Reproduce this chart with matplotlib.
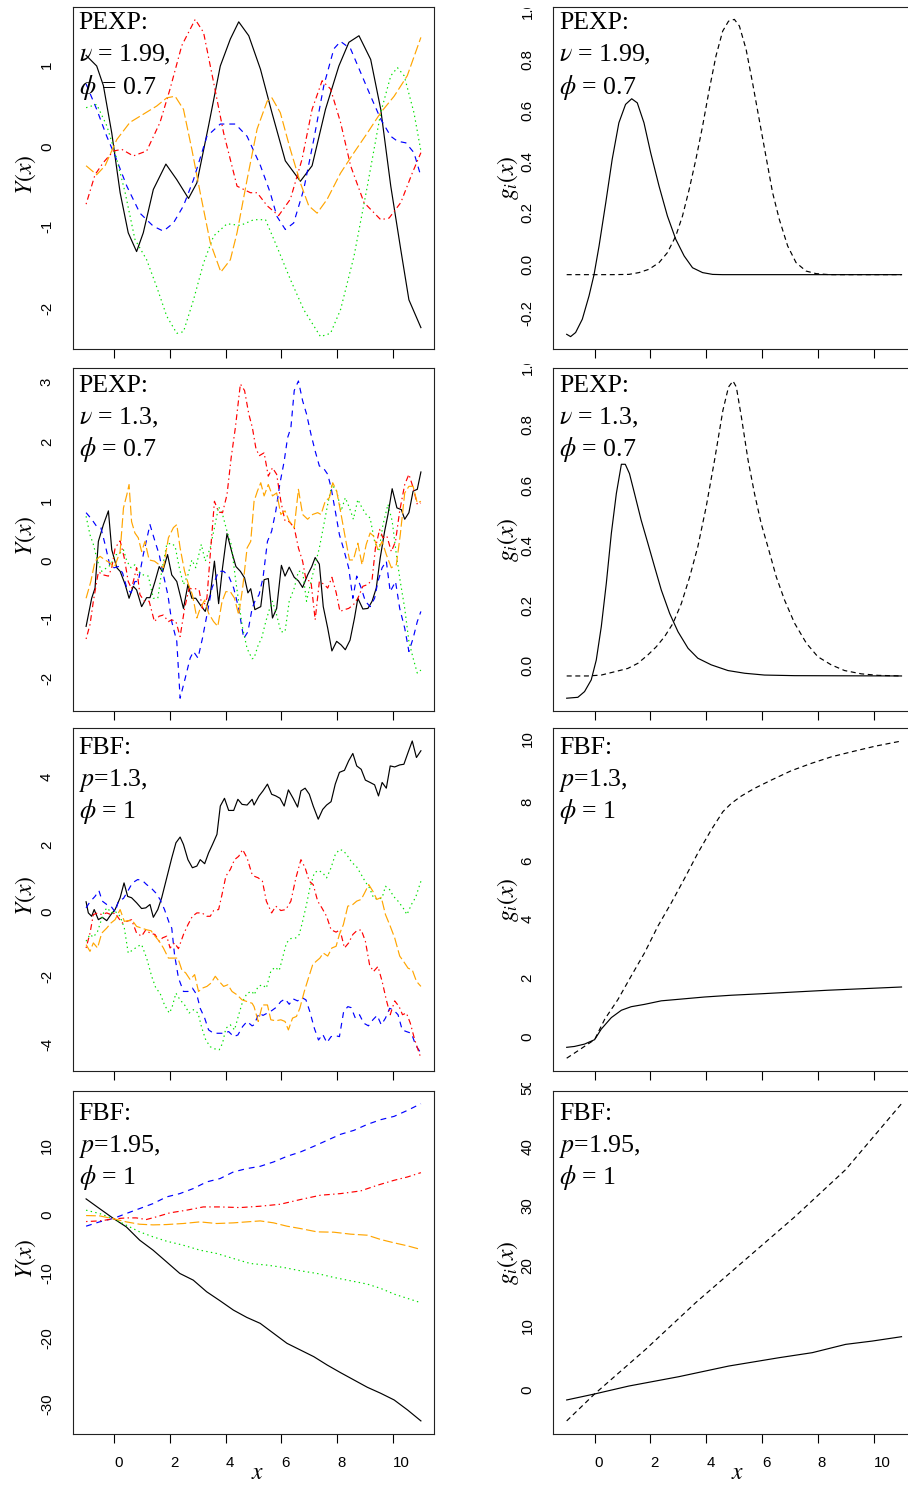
import numpy as np
import matplotlib
matplotlib.use("Agg")
import matplotlib.pyplot as plt
from matplotlib.transforms import Bbox, TransformedBbox

# ---- sample paths, PEXP nu=1.99 phi=0.7 ----
PEXP199_BLACK = [(-1.0, 1.17), (-0.62, 1.04), (-0.38, 0.80), (-0.08, 0.22), (0.22, -0.51), (0.51, -1.0),
                 (0.81, -1.23), (1.05, -1.0), (1.41, -0.47), (1.86, -0.16), (2.25, -0.35), (2.67, -0.58),
                 (2.97, -0.39), (3.39, 0.31), (3.81, 1.04), (4.17, 1.37), (4.47, 1.58), (4.83, 1.41),
                 (5.25, 1.0), (5.66, 0.47), (6.14, -0.12), (6.68, -0.37), (7.10, -0.18), (7.58, 0.51),
                 (8.06, 1.04), (8.42, 1.33), (8.78, 1.41), (9.20, 1.12), (9.56, 0.51), (9.92, -0.43),
                 (10.28, -1.21), (10.57, -1.82), (11.0, -2.16)]
PEXP199_RED = [(-1.0, -0.65), (-0.68, -0.29), (-0.38, -0.14), (-0.02, 0.0), (0.28, 0.02), (0.69, -0.06),
               (1.17, 0.0), (1.65, 0.35), (2.01, 0.76), (2.43, 1.29), (2.91, 1.61), (3.21, 1.45),
               (3.57, 0.84), (3.93, 0.22), (4.41, -0.43), (4.89, -0.51), (5.13, -0.51), (5.49, -0.67),
               (5.90, -0.79), (6.32, -0.59), (6.74, -0.10), (7.10, 0.51), (7.46, 0.86), (7.76, 0.76),
               (8.12, 0.35), (8.48, -0.18), (8.96, -0.63), (9.56, -0.84), (9.86, -0.82), (10.28, -0.63),
               (10.69, -0.27), (11.0, -0.02)]
PEXP199_BLUE = [(-1.0, 0.82), (-0.62, 0.51), (-0.26, 0.18), (0.04, -0.06), (0.46, -0.43), (0.93, -0.76),
                (1.41, -0.92), (1.77, -0.98), (2.13, -0.88), (2.49, -0.67), (2.85, -0.35), (3.33, 0.18),
                (3.81, 0.33), (4.35, 0.33), (4.77, 0.18), (5.25, -0.18), (5.60, -0.51), (5.84, -0.80),
                (6.14, -0.96), (6.44, -0.88), (6.80, -0.47), (7.16, 0.14), (7.52, 0.80), (7.88, 1.25),
                (8.12, 1.34), (8.48, 1.25), (8.84, 0.96), (9.20, 0.67), (9.56, 0.39), (9.92, 0.18),
                (10.16, 0.12), (10.46, 0.10), (10.75, -0.02), (11.0, -0.31)]
PEXP199_ORANGE = [(-1.0, -0.18), (-0.62, -0.29), (-0.32, -0.18), (0.10, 0.14), (0.57, 0.35), (1.05, 0.45),
                  (1.53, 0.55), (1.89, 0.65), (2.19, 0.67), (2.49, 0.51), (2.79, 0.02), (3.09, -0.51),
                  (3.45, -1.12), (3.83, -1.48), (4.17, -1.33), (4.41, -1.0), (4.77, -0.35), (5.13, 0.27),
                  (5.49, 0.61), (5.66, 0.65), (5.96, 0.47), (6.32, 0.02), (6.68, -0.39), (6.98, -0.67),
                  (7.28, -0.76), (7.64, -0.59), (8.12, -0.27), (8.60, -0.02), (9.08, 0.22), (9.56, 0.47),
                  (10.04, 0.67), (10.51, 0.92), (11.0, 1.39)]
PEXP199_GREEN = [(-1.0, 0.53), (-0.62, 0.57), (-0.26, 0.31), (0.04, -0.02), (0.40, -0.51), (0.75, -1.08),
                 (1.17, -1.33), (1.53, -1.66), (1.89, -2.02), (2.25, -2.23), (2.49, -2.21), (2.85, -1.82),
                 (3.21, -1.37), (3.57, -1.04), (4.05, -0.89), (4.53, -0.91), (5.01, -0.84), (5.43, -0.84),
                 (5.84, -1.17), (6.32, -1.57), (6.80, -1.94), (7.40, -2.27), (7.76, -2.23), (8.12, -1.94),
                 (8.60, -1.29), (9.08, -0.43), (9.56, 0.47), (9.92, 0.92), (10.16, 1.02), (10.40, 0.92),
                 (10.75, 0.47), (11.0, 0.0)]

# ---- sample paths, PEXP nu=1.3 phi=0.7 ----
PEXP13_BLACK = [(-1.0, -1.02), (-0.80, -0.55), (-0.68, -0.38), (-0.56, 0.40), (-0.38, 0.68), (-0.20, 0.91),
                (-0.08, 0.26), (0.10, -0.04), (0.22, -0.10), (0.40, -0.32), (0.54, -0.55), (0.69, -0.35),
                (0.81, -0.41), (0.99, -0.69), (1.17, -0.54), (1.29, -0.54), (1.47, -0.27), (1.62, -0.02),
                (1.74, -0.11), (1.92, 0.18), (2.07, -0.16), (2.25, -0.27), (2.49, -0.72), (2.65, -0.32),
                (2.79, -0.55), (2.93, -0.55), (3.09, -0.66), (3.27, -0.77), (3.45, -0.49), (3.60, 0.07),
                (3.75, -0.64), (3.89, -0.04), (4.05, 0.53), (4.23, 0.21), (4.37, -0.02), (4.53, -0.10),
                (4.68, -0.21), (4.80, -0.46), (4.90, -0.39), (5.05, -0.74), (5.26, -0.69), (5.38, -0.24),
                (5.53, -0.22), (5.68, -0.88), (5.83, -0.72), (6.00, 0.00), (6.13, -0.18), (6.28, -0.03),
                (6.46, -0.20), (6.61, -0.26), (6.76, -0.37), (6.94, -0.16), (7.09, -0.02), (7.21, 0.13),
                (7.36, 0.02), (7.50, -0.69), (7.66, -1.05), (7.81, -1.43), (7.98, -1.27), (8.14, -1.33),
                (8.29, -1.41), (8.46, -1.25), (8.62, -0.88), (8.74, -0.55), (8.92, -0.73), (9.10, -0.72),
                (9.25, -0.60), (9.40, -0.38), (9.54, 0.12), (9.70, 0.57), (9.82, 0.85), (9.97, 1.28),
                (10.14, 0.96), (10.30, 0.93), (10.42, 0.77), (10.57, 0.88), (10.72, 1.24), (10.87, 1.27),
                (11.0, 1.56)]
PEXP13_RED = [(-1.0, -1.23), (-0.86, -0.99), (-0.74, -0.60), (-0.56, -0.11), (-0.38, -0.16), (-0.20, -0.18),
              (-0.08, -0.04), (0.04, 0.29), (0.22, 0.41), (0.37, 0.12), (0.51, -0.27), (0.63, -0.39),
              (0.81, -0.04), (0.93, -0.49), (1.09, -0.60), (1.26, -0.60), (1.45, -0.94), (1.62, -0.85),
              (1.77, -0.83), (1.95, -0.94), (2.07, -0.91), (2.22, -0.94), (2.37, -1.19), (2.53, -0.72),
              (2.69, -0.39), (2.91, -0.39), (3.05, -0.41), (3.17, -0.72), (3.33, -0.55), (3.45, 0.18),
              (3.60, 1.07), (3.75, 0.89), (3.89, 0.88), (4.05, 1.18), (4.20, 1.80), (4.35, 2.30),
              (4.53, 3.03), (4.68, 2.92), (4.83, 2.53), (4.96, 2.30), (5.08, 1.97), (5.20, 1.83),
              (5.38, 1.88), (5.53, 1.49), (5.68, 1.63), (5.83, 1.52), (5.98, 1.07), (6.13, 0.74),
              (6.28, 0.73), (6.46, 0.63), (6.61, 0.29), (6.76, 0.07), (6.88, -0.24), (7.06, -0.27),
              (7.21, -0.91), (7.36, -0.27), (7.54, -0.32), (7.66, -0.38), (7.81, -0.20), (7.96, -0.45),
              (8.10, -0.77), (8.26, -0.74), (8.41, -0.72), (8.58, -0.66), (8.74, -0.55), (8.92, -0.35),
              (9.10, -0.32), (9.25, -0.24), (9.37, 0.29), (9.52, 0.60), (9.64, 0.46), (9.78, 0.49),
              (9.94, 0.23), (10.09, 0.40), (10.24, 0.91), (10.42, 1.35), (10.57, 1.52), (10.72, 1.30),
              (10.87, 1.02), (11.0, 1.04)]
PEXP13_BLUE = [(-1.0, 0.88), (-0.80, 0.77), (-0.62, 0.65), (-0.47, 0.63), (-0.32, 0.35), (-0.14, -0.02),
               (0.01, -0.04), (0.16, -0.02), (0.31, -0.13), (0.46, -0.38), (0.61, -0.46), (0.75, -0.27),
               (0.87, -0.27), (1.05, 0.18), (1.29, 0.68), (1.47, 0.40), (1.62, 0.18), (1.77, -0.16),
               (1.93, -0.49), (2.07, -0.94), (2.25, -1.27), (2.37, -2.22), (2.55, -1.89), (2.73, -1.55),
               (2.85, -1.44), (3.01, -1.55), (3.17, -1.22), (3.33, -0.83), (3.51, -0.38), (3.75, -0.10),
               (3.93, -0.10), (4.11, -0.18), (4.29, -0.38), (4.47, -0.72), (4.65, -1.22), (4.80, -1.11),
               (4.95, -0.72), (5.05, -0.60), (5.20, -0.49), (5.34, -0.21), (5.50, 0.40), (5.65, 0.57),
               (5.80, 0.91), (5.94, 1.35), (6.10, 1.74), (6.22, 2.13), (6.34, 2.30), (6.46, 2.92),
               (6.61, 3.08), (6.76, 2.75), (6.90, 2.53), (7.06, 2.19), (7.21, 1.91), (7.36, 1.66),
               (7.50, 1.63), (7.66, 1.52), (7.78, 1.30), (7.93, 0.91), (8.08, 0.51), (8.22, 0.29),
               (8.41, -0.04), (8.56, -0.55), (8.70, -0.18), (8.86, -0.38), (9.01, -0.60), (9.18, -0.69),
               (9.34, -0.55), (9.46, -0.27), (9.61, -0.04), (9.76, 0.07), (9.90, -0.44), (10.09, -0.27),
               (10.24, -0.72), (10.42, -1.05), (10.57, -1.44), (10.72, -1.22), (10.87, -0.94), (11.0, -0.77)]
PEXP13_ORANGE = [(-1.0, -0.55), (-0.83, -0.27), (-0.68, 0.07), (-0.50, 0.15), (-0.32, 0.09), (-0.14, 0.04),
                 (0.01, -0.04), (0.22, 0.23), (0.34, 0.96), (0.46, 1.18), (0.54, 1.35), (0.63, 0.73),
                 (0.75, 0.54), (0.87, 0.46), (0.99, 0.23), (1.11, 0.40), (1.26, 0.09), (1.45, 0.07),
                 (1.62, 0.01), (1.77, -0.04), (1.95, 0.46), (2.13, 0.63), (2.25, 0.68), (2.37, 0.29),
                 (2.53, -0.10), (2.67, -0.32), (2.81, -0.49), (2.97, -0.88), (3.09, -0.72), (3.25, -0.58),
                 (3.39, -0.80), (3.57, -0.94), (3.72, -1.02), (3.87, -0.61), (4.01, -0.44), (4.17, -0.44),
                 (4.32, -0.55), (4.47, -0.83), (4.61, -0.38), (4.77, 0.29), (4.90, 0.40), (5.02, 1.07),
                 (5.14, 1.24), (5.26, 1.38), (5.38, 1.16), (5.53, 1.35), (5.68, 1.16), (5.83, 1.21),
                 (5.98, 0.85), (6.13, 0.91), (6.28, 0.74), (6.46, 0.63), (6.61, 1.27), (6.76, 0.85),
                 (6.94, 0.77), (7.12, 0.85), (7.30, 0.88), (7.42, 0.85), (7.57, 1.07), (7.72, 1.13),
                 (7.84, 1.38), (7.98, 1.24), (8.14, 0.85), (8.29, 0.46), (8.44, 0.09), (8.58, 0.09),
                 (8.74, 0.37), (8.89, 0.01), (9.04, 0.35), (9.18, 0.54), (9.30, 0.49), (9.46, 0.26),
                 (9.61, 0.40), (9.76, 0.18), (9.94, -0.04), (10.12, 0.01), (10.26, 0.51), (10.42, 1.21),
                 (10.57, 1.32), (10.72, 1.32), (10.87, 1.04), (11.0, 1.07)]
PEXP13_GREEN = [(-1.0, 0.82), (-0.86, 0.51), (-0.74, 0.35), (-0.59, 0.07), (-0.44, -0.10), (-0.26, -0.04),
                (-0.11, 0.01), (0.04, 0.18), (0.16, 0.18), (0.34, 0.26), (0.46, 0.07), (0.61, -0.04),
                (0.75, 0.01), (0.87, -0.10), (1.05, -0.16), (1.23, -0.18), (1.41, -0.55), (1.57, -0.55),
                (1.71, -0.10), (1.89, 0.35), (2.05, 0.37), (2.19, 0.32), (2.34, -0.04), (2.49, -0.32),
                (2.65, -0.16), (2.79, 0.09), (2.93, -0.04), (3.13, 0.35), (3.27, 0.07), (3.45, 0.29),
                (3.60, 0.63), (3.75, 0.98), (3.89, 0.85), (4.05, 0.57), (4.20, 0.35), (4.35, -0.21),
                (4.47, -0.61), (4.61, -1.05), (4.77, -1.39), (4.95, -1.56), (5.02, -1.55), (5.17, -1.33),
                (5.29, -1.22), (5.44, -0.94), (5.58, -0.72), (5.68, -0.60), (5.83, -0.83), (5.98, -1.11),
                (6.13, -1.11), (6.28, -0.60), (6.46, -0.38), (6.61, -0.10), (6.76, -0.10), (6.90, -0.60),
                (7.06, -0.27), (7.21, 0.01), (7.36, 0.29), (7.50, 0.63), (7.66, 1.02), (7.81, 1.35),
                (7.98, 1.24), (8.14, 0.91), (8.29, 1.13), (8.44, 0.96), (8.58, 0.77), (8.74, 1.10),
                (8.89, 0.96), (9.04, 0.85), (9.18, 0.79), (9.34, 0.40), (9.49, 0.23), (9.64, 0.68),
                (9.82, 1.02), (9.97, 0.74), (10.12, 0.18), (10.26, -0.27), (10.42, -0.72), (10.57, -1.27),
                (10.72, -1.55), (10.87, -1.80), (11.0, -1.75)]

# ---- sample paths, FBF p=1.3 phi=1 ----
FBF13_BLACK = [(-1.0, 0.42), (-0.92, 0.09), (-0.80, -0.01), (-0.71, 0.19), (-0.56, -0.11), (-0.42, -0.04),
               (-0.26, -0.14), (-0.11, 0.04), (0.04, 0.19), (0.22, 0.54), (0.36, 0.98), (0.49, 0.58),
               (0.63, 0.54), (0.81, 0.39), (0.99, 0.22), (1.14, 0.24), (1.29, 0.34), (1.41, -0.04),
               (1.57, 0.19), (1.71, 0.54), (1.89, 1.13), (2.07, 1.72), (2.22, 2.17), (2.37, 2.34),
               (2.49, 2.12), (2.65, 1.67), (2.81, 1.43), (2.97, 1.48), (3.09, 1.67), (3.25, 1.55),
               (3.39, 1.87), (3.53, 2.12), (3.69, 2.42), (3.81, 3.26), (3.96, 3.49), (4.11, 3.13),
               (4.29, 3.13), (4.44, 3.46), (4.59, 3.31), (4.77, 3.29), (4.95, 3.46), (5.02, 3.29),
               (5.20, 3.56), (5.34, 3.71), (5.50, 3.91), (5.65, 3.61), (5.80, 3.56), (5.95, 3.49),
               (6.10, 3.26), (6.25, 3.74), (6.42, 3.49), (6.58, 3.23), (6.70, 3.71), (6.85, 3.79),
               (7.00, 3.61), (7.14, 3.26), (7.32, 2.87), (7.48, 3.16), (7.62, 3.29), (7.78, 3.39),
               (7.93, 3.91), (8.08, 4.26), (8.26, 4.32), (8.41, 4.60), (8.56, 4.82), (8.70, 4.45),
               (8.86, 4.35), (9.01, 4.03), (9.18, 3.96), (9.34, 3.89), (9.48, 3.56), (9.61, 3.96),
               (9.76, 3.79), (9.90, 4.45), (10.06, 4.42), (10.24, 4.48), (10.39, 4.50), (10.54, 4.85),
               (10.69, 5.19), (10.84, 4.70), (11.0, 4.90)]
FBF13_RED = [(-1.0, -0.95), (-0.86, -0.51), (-0.74, 0.04), (-0.59, 0.09), (-0.44, 0.04), (-0.26, 0.09),
             (-0.11, 0.04), (0.04, 0.09), (0.16, -0.06), (0.30, -0.21), (0.46, -0.16), (0.63, -0.11),
             (0.81, -0.51), (0.99, -0.60), (1.14, -0.41), (1.29, -0.51), (1.47, -0.55), (1.62, -0.75),
             (1.74, -0.65), (1.89, -0.60), (2.01, -0.95), (2.17, -0.80), (2.31, -0.97), (2.49, -0.55),
             (2.65, -0.26), (2.81, -0.01), (2.97, 0.09), (3.15, 0.09), (3.33, -0.01), (3.45, -0.01),
             (3.57, 0.16), (3.75, 0.19), (3.87, 0.63), (4.01, 1.18), (4.17, 1.38), (4.32, 1.67),
             (4.47, 1.77), (4.61, 1.97), (4.77, 1.72), (4.95, 1.23), (5.02, 1.18), (5.17, 1.13),
             (5.32, 1.03), (5.46, 0.44), (5.65, 0.09), (5.80, 0.29), (5.98, 0.16), (6.16, 0.19),
             (6.34, 0.44), (6.52, 1.13), (6.70, 1.67), (6.85, 1.43), (7.00, 1.03), (7.14, 0.93),
             (7.30, 0.44), (7.45, 0.24), (7.62, -0.01), (7.78, -0.41), (7.96, -0.48), (8.10, -0.41),
             (8.26, -0.95), (8.41, -0.80), (8.56, -0.55), (8.70, -0.44), (8.86, -0.41), (9.01, -0.75),
             (9.16, -1.45), (9.30, -1.65), (9.46, -1.50), (9.61, -1.94), (9.76, -2.49), (9.90, -2.93),
             (10.06, -2.52), (10.22, -2.69), (10.34, -2.93), (10.48, -2.88), (10.62, -3.18),
             (10.78, -3.68), (11.0, -4.22)]
FBF13_BLUE = [(-1.0, 0.24), (-0.86, 0.42), (-0.68, 0.58), (-0.54, 0.75), (-0.42, 0.44), (-0.26, 0.34),
              (-0.11, 0.29), (0.04, 0.12), (0.16, 0.44), (0.34, 0.52), (0.49, 0.73), (0.66, 0.98),
              (0.85, 1.08), (1.02, 1.05), (1.17, 0.93), (1.33, 0.83), (1.50, 0.68), (1.65, 0.49),
              (1.81, 0.19), (1.98, -0.21), (2.07, -0.36), (2.17, -1.15), (2.31, -1.84), (2.49, -2.24),
              (2.65, -2.24), (2.81, -2.14), (2.97, -2.34), (3.09, -2.74), (3.25, -3.03), (3.39, -3.38),
              (3.57, -3.48), (3.75, -3.48), (3.93, -3.48), (4.11, -3.43), (4.29, -3.58), (4.44, -3.53),
              (4.61, -3.28), (4.77, -3.13), (4.95, -3.26), (5.02, -3.23), (5.20, -2.88), (5.34, -2.95),
              (5.50, -2.88), (5.65, -2.81), (5.80, -2.72), (5.98, -2.54), (6.13, -2.46), (6.28, -2.62),
              (6.42, -2.46), (6.58, -2.52), (6.73, -2.42), (6.88, -2.49), (7.02, -2.84), (7.18, -3.33),
              (7.33, -3.68), (7.48, -3.51), (7.63, -3.76), (7.78, -3.58), (7.93, -3.55), (8.08, -3.58),
              (8.23, -2.84), (8.38, -2.69), (8.50, -2.72), (8.65, -3.03), (8.80, -2.93), (8.95, -3.18),
              (9.12, -3.26), (9.28, -3.08), (9.43, -2.95), (9.58, -3.23), (9.73, -3.03), (9.88, -2.74),
              (10.02, -2.79), (10.18, -2.93), (10.33, -3.38), (10.48, -3.43), (10.66, -3.48),
              (10.81, -3.83), (11.0, -4.07)]
FBF13_ORANGE = [(-1.0, -0.85), (-0.86, -1.05), (-0.74, -0.80), (-0.59, -0.95), (-0.44, -0.51), (-0.26, -0.36),
                (-0.11, -0.21), (0.04, -0.11), (0.22, 0.19), (0.37, -0.16), (0.51, -0.14), (0.66, -0.14),
                (0.81, -0.31), (0.99, -0.36), (1.17, -0.41), (1.33, -0.44), (1.47, -0.60), (1.62, -0.75),
                (1.77, -0.95), (1.95, -1.25), (2.13, -1.25), (2.29, -1.25), (2.43, -1.60), (2.57, -1.69),
                (2.73, -1.89), (2.89, -1.74), (3.03, -2.24), (3.17, -2.14), (3.33, -2.09), (3.48, -1.99),
                (3.63, -1.79), (3.77, -1.94), (3.93, -2.09), (4.08, -2.04), (4.23, -2.24), (4.41, -2.34),
                (4.59, -2.49), (4.77, -2.54), (4.95, -2.59), (5.02, -2.69), (5.17, -3.13), (5.32, -2.64),
                (5.50, -2.64), (5.62, -3.08), (5.80, -3.11), (5.98, -3.08), (6.13, -3.13), (6.25, -3.38),
                (6.40, -3.03), (6.54, -2.98), (6.66, -2.74), (6.82, -2.24), (6.97, -1.84), (7.12, -1.45),
                (7.24, -1.35), (7.38, -1.25), (7.50, -1.10), (7.66, -1.19), (7.81, -0.95), (7.96, -0.90),
                (8.08, -0.54), (8.22, -0.26), (8.38, 0.29), (8.56, 0.34), (8.70, 0.44), (8.86, 0.49),
                (8.98, 0.68), (9.13, 0.93), (9.28, 0.73), (9.42, 0.49), (9.58, 0.55), (9.73, 0.04),
                (9.88, -0.26), (10.06, -0.65), (10.24, -1.19), (10.38, -1.35), (10.54, -1.55),
                (10.69, -1.60), (10.84, -1.94), (11.0, -2.09)]
FBF13_GREEN = [(-1.0, -0.75), (-0.86, -0.55), (-0.74, -0.63), (-0.59, -0.46), (-0.47, -0.16), (-0.35, 0.16),
               (-0.23, 0.24), (-0.11, 0.09), (0.04, 0.14), (0.22, -0.01), (0.37, -0.36), (0.51, -1.10),
               (0.69, -1.00), (0.85, -0.90), (0.99, -0.85), (1.17, -1.25), (1.35, -1.79), (1.50, -2.14),
               (1.65, -2.29), (1.81, -2.64), (1.98, -2.88), (2.07, -2.74), (2.22, -2.29), (2.37, -2.49),
               (2.53, -2.64), (2.69, -2.88), (2.85, -2.78), (3.01, -2.88), (3.15, -3.33), (3.29, -3.68),
               (3.45, -3.88), (3.60, -3.94), (3.77, -3.97), (3.89, -3.78), (4.01, -3.33), (4.17, -3.23),
               (4.32, -3.38), (4.47, -2.93), (4.61, -2.54), (4.77, -2.29), (4.95, -2.24), (5.02, -2.34),
               (5.17, -2.09), (5.32, -2.04), (5.46, -2.14), (5.62, -1.64), (5.77, -1.52), (5.92, -1.62),
               (6.04, -1.25), (6.18, -0.80), (6.34, -0.67), (6.52, -0.65), (6.64, -0.55), (6.76, -0.16),
               (6.90, 0.34), (7.02, 0.83), (7.18, 1.28), (7.33, 1.35), (7.48, 1.28), (7.62, 1.13),
               (7.78, 1.43), (7.93, 1.82), (8.08, 1.97), (8.22, 1.94), (8.38, 1.77), (8.54, 1.57),
               (8.68, 1.48), (8.86, 1.23), (9.01, 1.01), (9.16, 0.83), (9.30, 0.54), (9.46, 0.49),
               (9.61, 0.54), (9.73, 0.88), (9.88, 0.78), (10.02, 0.58), (10.18, 0.44), (10.36, 0.24),
               (10.50, 0.04), (10.66, 0.34), (10.81, 0.55), (11.0, 1.03)]

# ---- sample paths, FBF p=1.95 phi=1 ----
FBF195_BLACK = [(-1.0, 3.06), (-0.52, 1.58), (0.0, 0.0), (0.44, -1.22), (0.92, -3.26), (1.40, -4.79),
                (1.88, -6.57), (2.36, -8.36), (2.84, -9.38), (3.32, -11.16), (3.80, -12.54), (4.28, -13.97),
                (4.76, -15.09), (5.24, -16.00), (5.72, -17.53), (6.20, -19.06), (6.68, -20.08),
                (7.16, -21.10), (7.64, -22.38), (8.12, -23.55), (8.60, -24.67), (9.08, -25.79),
                (9.56, -26.71), (10.04, -27.73), (10.52, -29.26), (11.0, -30.94)]
FBF195_RED = [(-1.0, -0.41), (-0.52, -0.31), (0.0, 0.0), (0.44, 0.15), (0.80, 0.15), (1.16, -0.10),
              (1.52, 0.31), (2.00, 0.92), (2.60, 1.33), (3.20, 1.83), (3.80, 1.83), (4.52, 1.73),
              (5.24, 1.94), (5.96, 2.24), (6.68, 2.96), (7.40, 3.62), (8.12, 3.87), (8.84, 4.28),
              (9.44, 5.15), (10.04, 5.91), (10.52, 6.42), (11.0, 7.08)]
FBF195_BLUE = [(-1.0, -1.12), (-0.52, -0.46), (0.0, 0.1), (0.44, 0.82), (0.92, 1.58), (1.40, 2.34),
               (1.88, 3.36), (2.36, 3.87), (2.84, 4.64), (3.32, 5.66), (3.80, 6.17), (4.28, 7.19),
               (4.76, 7.70), (5.24, 8.05), (5.72, 8.72), (6.20, 9.58), (6.68, 10.24), (7.16, 11.11),
               (7.64, 12.03), (8.12, 12.95), (8.60, 13.56), (9.08, 14.47), (9.56, 15.19), (10.04, 15.70),
               (10.52, 16.62), (11.0, 17.64)]
FBF195_ORANGE = [(-1.0, 0.51), (-0.52, 0.46), (0.0, 0.0), (0.44, -0.46), (0.92, -0.82), (1.40, -0.92),
                 (1.88, -0.87), (2.48, -0.71), (3.08, -0.46), (3.68, -0.71), (4.28, -0.61), (4.76, -0.46),
                 (5.24, -0.31), (5.72, -0.61), (6.20, -1.12), (6.68, -1.48), (7.28, -1.99), (7.88, -2.04),
                 (8.48, -2.34), (9.08, -2.50), (9.56, -3.16), (10.04, -3.67), (10.52, -4.13), (11.0, -4.69)]
FBF195_GREEN = [(-1.0, 1.33), (-0.52, 0.82), (0.0, 0.0), (0.44, -0.97), (0.92, -1.99), (1.40, -2.75),
                (1.88, -3.41), (2.48, -4.03), (3.08, -4.79), (3.68, -5.30), (4.28, -6.07), (4.88, -6.83),
                (5.48, -7.08), (6.08, -7.44), (6.68, -7.95), (7.28, -8.36), (7.88, -8.97), (8.48, -9.48),
                (9.08, -9.99), (9.56, -10.65), (10.04, -11.52), (10.52, -12.18), (11.0, -12.84)]

# ---- basis functions g_i(x) ----
G_PEXP199_SOLID = [(-1.0, -0.233), (-0.86, -0.242), (-0.68, -0.226), (-0.44, -0.174), (-0.20, -0.083),
                   (-0.02, 0.0), (0.16, 0.112), (0.40, 0.281), (0.63, 0.450), (0.87, 0.593), (1.11, 0.665),
                   (1.33, 0.687), (1.53, 0.671), (1.77, 0.593), (2.01, 0.476), (2.31, 0.346), (2.61, 0.229),
                   (2.91, 0.138), (3.21, 0.073), (3.51, 0.027), (3.87, 0.008), (4.23, 0.001), (4.59, 0.0),
                   (7.0, 0.0), (11.0, 0.0)]
G_PEXP199_DASHED = [(-1.0, 0.0), (0.63, 0.0), (1.23, 0.001), (1.59, 0.008), (1.95, 0.021), (2.31, 0.047),
                    (2.61, 0.086), (2.91, 0.151), (3.15, 0.229), (3.39, 0.333), (3.63, 0.450), (3.87, 0.580),
                    (4.11, 0.723), (4.35, 0.854), (4.59, 0.951), (4.80, 0.990), (5.01, 0.997), (5.19, 0.971),
                    (5.43, 0.880), (5.66, 0.750), (5.90, 0.606), (6.14, 0.463), (6.38, 0.320), (6.62, 0.216),
                    (6.92, 0.112), (7.22, 0.047), (7.58, 0.014), (7.94, 0.004), (8.42, 0.0), (11.0, 0.0)]
G_PEXP13_SOLID = [(-1.0, -0.074), (-0.60, -0.071), (-0.36, -0.052), (-0.12, -0.013), (0.06, 0.053),
                  (0.24, 0.164), (0.42, 0.308), (0.60, 0.474), (0.78, 0.607), (0.96, 0.704), (1.10, 0.704),
                  (1.25, 0.673), (1.43, 0.607), (1.67, 0.518), (1.91, 0.441), (2.15, 0.363), (2.39, 0.286),
                  (2.69, 0.208), (2.99, 0.147), (3.35, 0.092), (3.70, 0.059), (4.18, 0.037), (4.78, 0.018),
                  (5.38, 0.009), (6.09, 0.003), (7.17, 0.001), (11.0, 0.0)]
G_PEXP13_DASHED = [(-1.0, 0.0), (-0.24, 0.0), (0.24, 0.003), (0.72, 0.014), (1.19, 0.025), (1.55, 0.042),
                   (1.91, 0.070), (2.21, 0.097), (2.51, 0.131), (2.81, 0.175), (3.11, 0.241), (3.41, 0.330),
                   (3.70, 0.430), (4.00, 0.563), (4.30, 0.718), (4.60, 0.884), (4.80, 0.961), (4.96, 0.981),
                   (5.08, 0.961), (5.26, 0.862), (5.50, 0.718), (5.73, 0.607), (5.97, 0.507), (6.21, 0.430),
                   (6.51, 0.330), (6.81, 0.252), (7.17, 0.175), (7.59, 0.109), (8.00, 0.064), (8.48, 0.037),
                   (8.96, 0.018), (9.56, 0.007), (10.16, 0.002), (11.0, 0.0)]
G_FBF13_SOLID = [(-1.0, -0.21), (-0.72, -0.18), (-0.36, -0.10), (0.0, 0.05), (0.24, 0.41), (0.60, 0.80),
                 (0.96, 1.05), (1.31, 1.17), (1.79, 1.25), (2.39, 1.37), (2.99, 1.42), (3.94, 1.50),
                 (4.90, 1.56), (5.97, 1.61), (7.17, 1.67), (8.36, 1.73), (9.56, 1.78), (11.0, 1.84)]
G_FBF13_DASHED = [(-1.0, -0.58), (-0.60, -0.33), (-0.24, -0.10), (0.0, 0.05), (0.36, 0.74), (0.84, 1.42),
                  (1.31, 2.21), (1.79, 3.00), (2.27, 3.91), (2.75, 4.70), (3.23, 5.54), (3.70, 6.39),
                  (4.18, 7.18), (4.60, 7.80), (4.90, 8.08), (5.26, 8.33), (5.73, 8.59), (6.33, 8.87),
                  (7.05, 9.19), (7.77, 9.44), (8.48, 9.66), (9.20, 9.83), (10.04, 10.02), (11.0, 10.20)]
G_FBF195_SOLID = [(-1.0, -1.0), (0.0, 0.0), (1.23, 1.33), (3.02, 2.89), (4.81, 4.67), (6.61, 6.06),
                  (7.80, 6.90), (9.00, 8.29), (9.95, 8.84), (11.0, 9.57)]
G_FBF195_DASHED = [(-1.0, -4.5), (0.0, 0.0), (1.83, 7.45), (3.62, 15.24), (5.41, 22.47), (7.20, 29.70),
                   (9.00, 37.49), (11.0, 48.5)]

X_TICKS = [0, 2, 4, 6, 8, 10]
LEFT_YTICKS = [[-2, -1, 0, 1], [-2, -1, 0, 1, 2, 3], [-4, -2, 0, 2, 4], [-30, -20, -10, 0, 10]]
RIGHT_YTICKS = [[-0.2, 0.0, 0.2, 0.4, 0.6, 0.8, 1.0], [0.0, 0.2, 0.4, 0.6, 0.8, 1.0],
                [0, 2, 4, 6, 8, 10], [0, 10, 20, 30, 40, 50]]
PANEL_TEXT = [["PEXP:", r"$\nu$ = 1.99,", r"$\phi$ = 0.7"],
              ["PEXP:", r"$\nu$ = 1.3,", r"$\phi$ = 0.7"],
              ["FBF:", r"$p$=1.3,", r"$\phi$ = 1"],
              ["FBF:", r"$p$=1.95,", r"$\phi$ = 1"]]

PATHS = [
    [PEXP199_BLACK, PEXP199_BLUE, PEXP199_GREEN, PEXP199_RED, PEXP199_ORANGE],
    [PEXP13_BLACK, PEXP13_BLUE, PEXP13_GREEN, PEXP13_RED, PEXP13_ORANGE],
    [FBF13_BLACK, FBF13_BLUE, FBF13_GREEN, FBF13_RED, FBF13_ORANGE],
    [FBF195_BLACK, FBF195_BLUE, FBF195_GREEN, FBF195_RED, FBF195_ORANGE],
]
BASIS = [
    [G_PEXP199_SOLID, G_PEXP199_DASHED],
    [G_PEXP13_SOLID, G_PEXP13_DASHED],
    [G_FBF13_SOLID, G_FBF13_DASHED],
    [G_FBF195_SOLID, G_FBF195_DASHED],
]

# matplot-like line styles: lty 1..5
PATH_STYLES = [
    dict(color="black", linestyle="-"),
    dict(color="blue", linestyle=(0, (4.2, 3.6))),
    dict(color="#00e000", linestyle=(0, (1.0, 2.4))),
    dict(color="red", linestyle=(0, (1.0, 2.4, 4.2, 2.4))),
    dict(color="orange", linestyle=(0, (7.0, 2.4))),
]
BASIS_STYLES = [
    dict(color="black", linestyle="-"),
    dict(color="black", linestyle=(0, (3.6, 2.6))),
]

plt.rcParams["font.family"] = ["Liberation Sans", "DejaVu Sans"]
plt.rcParams["mathtext.fontset"] = "stix"
plt.rcParams["axes.unicode_minus"] = False
plt.rcParams["lines.scale_dashes"] = False

W, H = 908, 1485
fig = plt.figure(figsize=(W / 100, H / 100), dpi=100)

COL_LEFT = [72.7, 553.3]
BOX_W = 361.6
ROW_TOP = [6.7, 368.3, 728.3, 1091.0]
BOX_H = 342.6
TEXT_FIRST = [22.5, 23.5, 25.5, 28.5]
# each panel tile ends a little above its box; labels poking out get cut there
TILE_TOP = [8.3, 364.0, 720.0, 1083.0]
SERIF = ["Liberation Serif", "DejaVu Serif"]


def limits(series):
    vals = np.concatenate(series)
    lo, hi = vals.min(), vals.max()
    pad = 0.04 * (hi - lo)
    return lo - pad, hi + pad


def make_panel(row, col, series, styles, yticks, ylabel):
    left = COL_LEFT[col]
    top = ROW_TOP[row]
    ax = fig.add_axes([left / W, 1 - (top + BOX_H) / H, BOX_W / W, BOX_H / H])
    xs, ys = [], []
    for pts, st in zip(series, styles):
        x, y = np.array(pts).T
        ax.plot(x, y, linewidth=0.85, **st)
        xs.append(x)
        ys.append(y)
    ax.set_xlim(*limits(xs))
    ax.set_ylim(*limits(ys))
    ax.set_xticks(X_TICKS)
    ax.set_yticks(yticks)
    bottom = row == 3
    ax.tick_params(axis="x", direction="out", length=6.2, width=0.8, pad=10.0,
                   labelsize=10.8, labelbottom=bottom)
    ax.tick_params(axis="y", length=0, pad=13.5, labelsize=10.8, labelrotation=90)

    # tick labels start at the tick (adj = 0)
    for lab in ax.get_xticklabels():
        lab.set_ha("left")
    tile = TransformedBbox(Bbox([[0, 0], [1, 1 - TILE_TOP[row] / H]]), fig.transFigure)
    for lab in ax.get_yticklabels():
        lab.set_va("bottom")
        lab.set_clip_on(True)
        lab.set_clip_box(tile)

    for sp in ax.spines.values():
        sp.set_linewidth(0.8)
        sp.set_color("#222222")
    ax.set_ylabel(ylabel, fontsize=17)
    ax.yaxis.set_label_coords(-0.095 if col == 0 else -0.090, 0.51 if col == 0 else 0.5)
    if bottom:
        ax.set_xlabel("$x$", fontsize=17)
        ax.xaxis.set_label_coords(0.512 if col == 0 else 0.51, -0.083)
    for i, line in enumerate(PANEL_TEXT[row]):
        ax.annotate(line, xy=(0, 1), xycoords="axes fraction",
                    xytext=(6.0, -(TEXT_FIRST[row] + 32.3 * i)), textcoords="offset pixels",
                    ha="left", va="baseline", fontsize=18.6, family=SERIF)
    return ax


for r in range(4):
    make_panel(r, 0, PATHS[r], PATH_STYLES, LEFT_YTICKS[r], "$Y(x)$")
    make_panel(r, 1, BASIS[r], BASIS_STYLES, RIGHT_YTICKS[r], "$g_i(x)$")

fig.savefig("out.png", dpi=100)
